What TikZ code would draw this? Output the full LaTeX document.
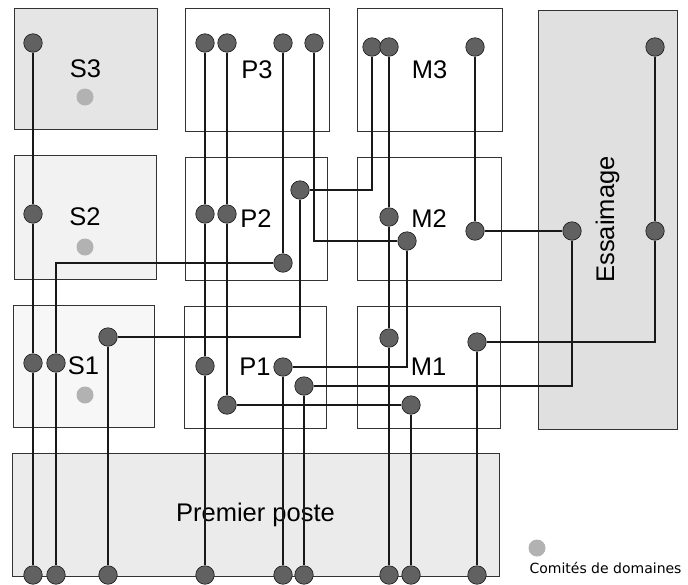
\documentclass[tikz,border=0pt]{standalone}
\usepackage{fontspec}
\setmainfont{Liberation Sans}
\newfontfamily\legendfont{DejaVu Sans}

\newcommand\zone[6]{
	\node[zone, fill=#6, minimum width=#3pt, minimum height=#4pt] (#1) at (#2) {#5};
}
\newcommand\poste[3]{\node[dot] (#1) at (#2,#3) {};}

\begin{document}
\begin{tikzpicture}[x=1pt, y=-1pt, font=\fontsize{25.5}{30}\selectfont,
	zone/.style={draw=black!80, line width=0.8pt, inner sep=0pt},
	dot/.style={circle, draw=black!90, fill=black!62, line width=0.6pt, inner sep=0pt, minimum size=18.5pt},
	comite/.style={circle, fill=black!30, inner sep=0pt, minimum size=17pt},
	wire/.style={line width=1.6pt, black!90}]
	\useasboundingbox (0,0) rectangle (688,584);

	% Zones
	\zone{S3}{85.5,68.5}{143}{121}{S3}{black!10}
	\zone{P3}{257,69.5}{144}{123}{P3}{white}
	\zone{M3}{429.5,69.5}{145}{123}{M3}{white}
	\zone{S2}{85,217}{142}{124}{S2}{black!5}
	\zone{P2}{256,218.5}{142}{123}{P2}{white}
	\zone{M2}{429,218.5}{144}{123}{M2}{white}
	\zone{S1}{83.5,366}{141}{122}{S1}{black!3}
	\zone{P1}{255,367}{142}{122}{P1}{white}
	\zone{M1}{428.5,367}{143}{122}{M1}{white}
	\zone{premier}{255.5,514.5}{487}{123}{Premier poste}{black!8}
	\zone{essaimage}{607.5,219.5}{139}{419}{\rotatebox{90}{Essaimage}}{black!12}

	% Comites de domaines
	\node[comite] (c3) at (85,97) {};
	\node[comite] (c2) at (85,247) {};
	\node[comite] (c1) at (85,395) {};
	\node[comite] (cl) at (537,548) {};
	\node[anchor=base west, font=\legendfont\fontsize{14}{16}\selectfont] (legende) at (526,573) {Comités de domaines};

	% Postes
	\poste{s3a}{33}{43}
	\poste{s2a}{33}{214}
	\poste{s1a}{33}{363}
	\poste{s1b}{56}{363}
	\poste{s1c}{108}{337}
	\poste{p3a}{205}{43}
	\poste{p3b}{227}{43}
	\poste{p3c}{283}{43}
	\poste{p3d}{314}{43}
	\poste{p2a}{205}{214}
	\poste{p2b}{227}{214}
	\poste{p2c}{283}{263}
	\poste{p2d}{300}{190}
	\poste{p1a}{205}{366}
	\poste{p1b}{227}{405}
	\poste{p1c}{283}{367}
	\poste{p1d}{304}{386}
	\poste{m3a}{372}{47}
	\poste{m3b}{389}{47}
	\poste{m3c}{475}{47}
	\poste{m2a}{389}{217}
	\poste{m2b}{407}{241}
	\poste{m2c}{475}{231}
	\poste{m1a}{389}{338}
	\poste{m1b}{477}{342}
	\poste{m1c}{411}{405}
	\poste{e3}{655}{47}
	\poste{e2a}{572}{231}
	\poste{e2b}{655}{231}
	\poste{b1}{33}{575}
	\poste{b2}{56}{575}
	\poste{b3}{108}{575}
	\poste{b4}{205}{575}
	\poste{b5}{283}{575}
	\poste{b6}{304}{575}
	\poste{b7}{389}{575}
	\poste{b8}{411}{575}
	\poste{b9}{477}{575}

	% Parcours
	\draw[wire] (s3a) -- (s2a) -- (s1a) -- (b1);
	\draw[wire] (p3c) -- (p2c) -- (p2c -| s1b) -- (s1b) -- (b2);
	\draw[wire] (m3a) -- (m3a |- p2d) -- (p2d) -- (p2d |- s1c) -- (s1c) -- (b3);
	\draw[wire] (p3a) -- (p2a) -- (p1a) -- (b4);
	\draw[wire] (p3b) -- (p2b) -- (p1b) -- (m1c) -- (b8);
	\draw[wire] (p3d) -- (p3d |- m2b) -- (m2b) -- (m2b |- p1c) -- (p1c) -- (b5);
	\draw[wire] (m3b) -- (m2a) -- (m1a) -- (b7);
	\draw[wire] (m3c) -- (m2c) -- (e2a) -- (e2a |- p1d) -- (p1d) -- (b6);
	\draw[wire] (e3) -- (e2b) -- (e2b |- m1b) -- (m1b) -- (b9);
\end{tikzpicture}
\end{document}
